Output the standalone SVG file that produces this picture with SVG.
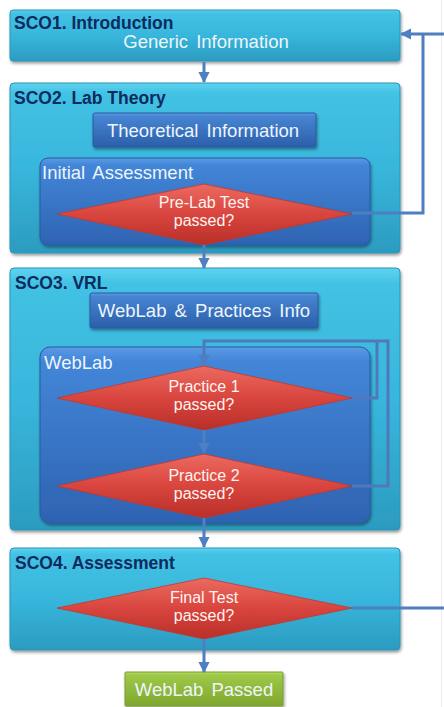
<svg xmlns="http://www.w3.org/2000/svg" width="444" height="707" viewBox="0 0 444 707">
<defs>
  <linearGradient id="gCyan" x1="0" y1="0" x2="0" y2="1">
    <stop offset="0" stop-color="#5ED3EF"/>
    <stop offset="0.06" stop-color="#42C2E4"/>
    <stop offset="0.5" stop-color="#38B6DC"/>
    <stop offset="1" stop-color="#2C9BC0"/>
  </linearGradient>
  <linearGradient id="gBlue" x1="0" y1="0" x2="0" y2="1">
    <stop offset="0" stop-color="#5A9BE6"/>
    <stop offset="0.08" stop-color="#4386D8"/>
    <stop offset="1" stop-color="#2E63B2"/>
  </linearGradient>
  <linearGradient id="gBlueBtn" x1="0" y1="0" x2="0" y2="1">
    <stop offset="0" stop-color="#5C9BE2"/>
    <stop offset="0.1" stop-color="#4684D2"/>
    <stop offset="1" stop-color="#2B5FAA"/>
  </linearGradient>
  <linearGradient id="gRed" x1="0" y1="0" x2="0" y2="1">
    <stop offset="0" stop-color="#EC6A60"/>
    <stop offset="0.5" stop-color="#D8453E"/>
    <stop offset="1" stop-color="#B92F29"/>
  </linearGradient>
  <linearGradient id="gGreen" x1="0" y1="0" x2="0" y2="1">
    <stop offset="0" stop-color="#B2DA5E"/>
    <stop offset="0.1" stop-color="#9DC847"/>
    <stop offset="1" stop-color="#7FA72F"/>
  </linearGradient>
  <filter id="sh" x="-5%" y="-5%" width="112%" height="120%">
    <feDropShadow dx="1" dy="2" stdDeviation="1.5" flood-color="#000" flood-opacity="0.4"/>
  </filter>
  <marker id="ah" viewBox="0 0 10 10" refX="9" refY="5" markerWidth="3.8" markerHeight="3.8" orient="auto" markerUnits="strokeWidth">
    <path d="M0,0 L10,5 L0,10 z" fill="#4D7FC2"/>
  </marker>
  <style>
    .sco { fill: url(#gCyan); stroke: #2C93B8; stroke-width: 1; filter: url(#sh); }
    .inner { fill: url(#gBlue); stroke: #2B5AA0; stroke-width: 1; filter: url(#sh); }
    .btn { fill: url(#gBlueBtn); stroke: #2B5AA0; stroke-width: 1; filter: url(#sh); }
    .dia { fill: url(#gRed); stroke: #C0392F; stroke-width: 0.8; }
    .title { font-family: "Liberation Sans", Arial, sans-serif; font-weight: bold; font-size: 17.5px; fill: #0C2B5E; }
    .wt { font-family: "Liberation Sans", Arial, sans-serif; font-size: 18.5px; fill: #EEF5FC; word-spacing: 3px; }
    .dt { font-family: "Liberation Sans", Arial, sans-serif; font-size: 16px; fill: #FFF3F0; text-anchor: middle; }
    .c { fill: none; stroke: #4D7FC2; stroke-width: 3; }
    .cl { fill: none; stroke: #4F78BD; stroke-width: 3; }
  </style>
</defs>

<line x1="441.5" y1="0" x2="441.5" y2="707" stroke="#ECECEC" stroke-width="1"/>

<g id="sco1">
  <rect class="sco" x="10" y="10" width="390" height="51" rx="3"/>
  <text class="title" x="14" y="29">SCO1. Introduction</text>
  <text class="wt" x="206" y="48" text-anchor="middle">Generic Information</text>
</g>

<g id="sco2">
  <rect class="sco" x="10" y="83" width="390" height="170" rx="4"/>
  <text class="title" x="14" y="104">SCO2. Lab Theory</text>
</g>
<g id="theoretical">
  <rect class="btn" x="93" y="113" width="223" height="34" rx="2"/>
  <text class="wt" x="203" y="137" text-anchor="middle">Theoretical Information</text>
</g>
<g id="initial-assessment">
  <rect class="inner" x="40" y="158" width="330" height="87" rx="8"/>
  <text class="wt" x="42" y="179">Initial Assessment</text>
</g>
<g id="prelab">
  <polygon class="dia" points="57,214 204,184 352,214 204,245"/>
  <text class="dt" x="204" y="208">Pre-Lab Test</text>
  <text class="dt" x="204" y="226">passed?</text>
</g>

<g id="sco3">
  <rect class="sco" x="10" y="268" width="390" height="262" rx="4"/>
  <text class="title" x="15" y="289">SCO3. VRL</text>
</g>
<g id="weblab-info">
  <rect class="btn" x="90" y="293" width="228" height="35" rx="2"/>
  <text class="wt" x="204" y="317" text-anchor="middle">WebLab &amp; Practices Info</text>
</g>
<g id="weblab">
  <rect class="inner" x="40" y="347" width="330" height="176" rx="10"/>
  <text class="wt" x="44" y="369">WebLab</text>
</g>
<g id="practice1">
  <polygon class="dia" points="57,398 204,366 352,398 204,430"/>
  <text class="dt" x="204" y="392">Practice 1</text>
  <text class="dt" x="204" y="410">passed?</text>
</g>
<g id="practice2">
  <polygon class="dia" points="57,486 204,454 352,486 204,518"/>
  <text class="dt" x="204" y="481">Practice 2</text>
  <text class="dt" x="204" y="499">passed?</text>
</g>

<g id="sco4">
  <rect class="sco" x="10" y="548" width="390" height="102" rx="4"/>
  <text class="title" x="15" y="569">SCO4. Assessment</text>
</g>
<g id="final">
  <polygon class="dia" points="57,608 204,578 352,608 204,639"/>
  <text class="dt" x="204" y="603">Final Test</text>
  <text class="dt" x="204" y="621">passed?</text>
</g>

<g id="passed">
  <rect x="125" y="672" width="158" height="34" rx="1" fill="url(#gGreen)" stroke="#7A9E30" stroke-width="1" filter="url(#sh)"/>
  <text class="wt" x="204" y="696" text-anchor="middle">WebLab Passed</text>
</g>

<g id="connectors">
  <line class="c" x1="204" y1="62" x2="204" y2="82" marker-end="url(#ah)"/>
  <line class="c" x1="204" y1="245" x2="204" y2="268" marker-end="url(#ah)"/>
  <line class="c" x1="204" y1="430" x2="204" y2="453" marker-end="url(#ah)"/>
  <line class="c" x1="204" y1="518" x2="204" y2="547" marker-end="url(#ah)"/>
  <line class="c" x1="204" y1="639" x2="204" y2="672" marker-end="url(#ah)"/>
  <polyline class="c" points="352,213 423,213 423,34"/>
  <line class="c" x1="444" y1="34" x2="401" y2="34" marker-end="url(#ah)"/>
  <line class="c" x1="352" y1="608" x2="444" y2="608"/>
  <polyline class="cl" points="352,398 377,398 377,341"/>
  <polyline class="cl" points="352,486 388,486 388,341 204,341 204,365" marker-end="url(#ah)"/>
</g>
</svg>
